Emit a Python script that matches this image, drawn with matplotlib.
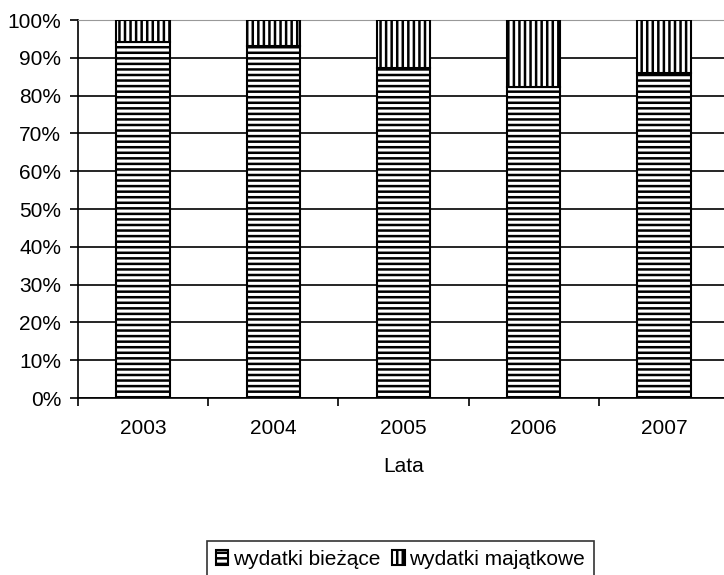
import numpy as np
import matplotlib
matplotlib.use('Agg')
import matplotlib.pyplot as plt

# data (share of total spending)
years = ['2003', '2004', '2005', '2006', '2007']
biezace = [94.2, 93.0, 87.4, 82.2, 85.9]
majatkowe = [100 - v for v in biezace]

plt.rcParams['font.family'] = ['Liberation Sans', 'DejaVu Sans']
plt.rcParams['hatch.linewidth'] = 1.8
plt.rcParams['hatch.color'] = 'black'

fs = 15

fig = plt.figure(figsize=(7.24, 5.75), dpi=100)
ax = fig.add_axes([0.1077, 0.3078, 0.8993, 0.6574])

x = np.arange(len(years))
ax.bar(x, biezace, width=0.41, color='white', edgecolor='black', hatch='---',
       linewidth=1.5, label='wydatki bieżące', zorder=3)
ax.bar(x, majatkowe, width=0.41, bottom=biezace, color='white', edgecolor='black',
       hatch='|||', linewidth=1.5, label='wydatki majątkowe', zorder=3)

ax.set_xlim(-0.5, len(years) - 0.5)
ax.set_ylim(0, 100)
ax.set_yticks(np.arange(0, 101, 10))
ax.set_yticklabels([f'{v}%' for v in range(0, 101, 10)])
ax.yaxis.grid(True, color='black', linewidth=1.2, zorder=0)
ax.set_axisbelow(True)

ax.set_xticks(x)
ax.set_xticklabels(years)
ax.set_xticks(np.arange(-0.5, len(years), 1), minor=True)
ax.tick_params(axis='x', which='major', length=0, pad=15, labelsize=fs)
ax.tick_params(axis='x', which='minor', length=6, width=1.2, direction='out')
ax.tick_params(axis='y', length=6, width=1.2, direction='out', labelsize=fs, pad=6)

ax.spines['right'].set_visible(False)
ax.spines['top'].set_color('#999999')
ax.spines['left'].set_linewidth(1.2)
ax.spines['bottom'].set_linewidth(1.2)

ax.set_xlabel('Lata', fontsize=fs, labelpad=14)

leg = fig.legend(loc='upper center', bbox_to_anchor=(0.553, 0.06), ncol=2,
                 fontsize=fs, frameon=True, fancybox=False, handlelength=0.6,
                 handleheight=0.7, handletextpad=0.2, columnspacing=0.6,
                 borderpad=0.45, borderaxespad=0)
leg.get_frame().set_edgecolor('black')
leg.get_frame().set_linewidth(1.2)

fig.savefig('out.png', dpi=100)
